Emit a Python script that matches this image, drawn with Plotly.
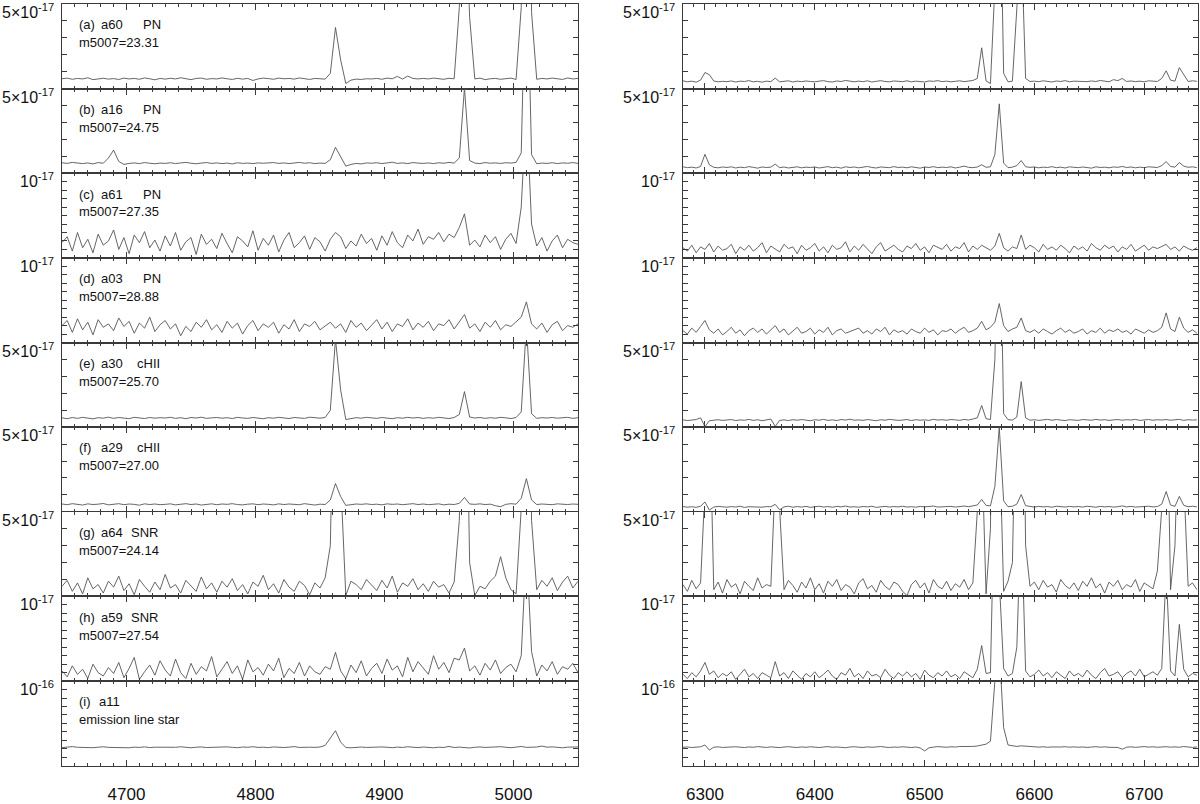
import plotly.graph_objects as go

W, H = 1200, 804

# wavelength sampling (Angstrom)
wl_blue = [4650 + 4 * i for i in range(101)]
wl_red = [6280 + 4 * i for i in range(118)]

# fluxes in units of 1e-19 erg s-1 cm-2 A-1
blue_a = [58,62,55,60,57,64,53,58,61,56, 59,54,62,57,60,55,63,58,52,60,
          56,61,57,64,58,53,60,62,55,59, 57,63,58,54,61,56,60,48,57,62,
          59,55,62,58,60,56,63,57,54,60, 58,56,90,361,170,30,50,56,54,58,
          57,60,55,62,58,72,56,74,60,57, 60,57,62,59,55,61,58,480,1300,420,
          57,62,53,58,60,55,58,62,54,480, 3900,450,55,60,57,62,58,54,63,57,60]
blue_b = [62,58,64,60,57,61,55,63,59,90, 137,70,52,58,61,57,63,59,56,60,
          58,62,57,61,64,59,56,60,63,58, 61,57,60,55,62,58,60,57,61,59,
          60,63,58,61,57,60,64,59,62,57, 60,58,80,153,95,42,52,58,55,61,
          59,62,57,60,65,58,61,57,63,60, 58,61,57,62,59,64,60,90,505,75,
          60,57,63,59,61,58,62,60,64,120, 1400,110,56,60,58,62,57,61,59,63,58]
blue_c = [18,25,8,30,12,22,6,28,15,20, 33,10,24,5,27,18,31,12,21,8,
          26,14,30,9,19,24,4,28,16,22, 11,29,17,6,25,20,13,32,9,23,
          15,27,7,21,30,12,18,26,10,24, 19,8,22,30,25,11,20,14,28,17,
          23,9,26,15,31,18,12,27,20,34, 16,25,22,30,19,28,24,36,52,15,
          21,13,27,18,25,10,22,29,17,60, 180,40,14,24,8,20,27,12,22,18,16]
blue_d = [20,26,12,28,15,24,9,27,18,22, 14,29,19,25,11,23,17,30,13,21,
          26,16,22,8,19,13,24,18,27,15, 21,12,25,17,23,10,20,26,14,22,
          18,24,11,21,16,27,13,22,19,25, 15,20,24,17,22,12,26,18,23,14,
          21,27,16,24,13,22,19,28,15,23, 18,25,14,22,20,27,16,24,33,17,
          22,13,24,18,26,15,21,19,25,30, 48,22,16,23,12,21,25,14,20,18,22]
blue_e = [55,50,57,52,58,54,49,56,53,59, 52,57,54,50,58,55,51,57,53,56,
          54,58,52,56,50,57,54,59,52,55, 57,53,56,51,58,54,52,57,55,50,
          56,53,58,54,51,57,55,52,59,54, 53,57,100,520,220,45,50,56,53,58,
          55,52,57,54,50,56,53,58,54,57, 52,56,53,58,55,51,57,75,210,60,
          54,57,52,56,53,58,55,51,57,90, 600,80,52,56,54,57,53,55,58,52,56]
blue_f = [46,42,48,44,40,47,43,45,49,41, 45,48,42,46,44,39,47,43,46,42,
          44,47,41,45,48,43,46,40,44,47, 42,46,44,48,43,41,45,47,42,46,
          44,41,47,43,46,45,42,48,44,40, 45,43,70,167,90,38,42,46,44,47,
          43,45,41,47,44,46,42,45,48,43, 46,42,44,47,41,45,43,50,85,46,
          44,47,43,45,36,30,44,48,45,80, 196,70,43,46,44,42,47,45,43,46,44]
blue_g = [60,95,30,80,15,110,45,70,20,90, 55,120,35,75,10,100,60,25,85,40,
          130,50,70,20,95,65,30,115,45,80, 25,90,55,105,35,70,15,85,60,125,
          40,75,20,100,55,30,90,65,10,80, 50,110,300,1800,700,5,90,70,40,100,
          65,35,95,50,120,25,80,60,105,40, 75,30,90,55,70,20,85,450,2000,200,
          5,60,45,90,120,235,110,40,15,520, 3000,450,40,95,60,110,35,85,120,50,90]
blue_h = [12,5,18,8,14,3,20,10,6,16, 9,22,4,15,28,2,11,19,7,24,
          13,6,26,10,3,21,8,17,12,29, 5,14,23,9,18,2,25,11,16,7,
          20,12,27,4,15,9,22,6,18,11, 8,17,14,34,12,3,19,10,24,6,
          15,21,9,26,13,18,5,28,11,23, 16,8,30,14,22,10,27,25,39,12,
          18,7,21,13,25,9,16,20,11,30, 160,35,6,19,12,23,8,17,14,21,10]
blue_i = [214,220,226,218,216,222,213,219,224,217, 215,221,218,212,220,216,223,214,219,217,
          221,215,218,224,216,212,219,222,215,218, 220,216,223,217,213,221,218,225,216,219,
          214,222,218,215,220,226,216,213,219,217, 221,240,330,414,280,215,212,218,221,216,
          219,215,222,218,213,220,216,224,217,214, 221,218,212,219,216,228,215,220,217,210,
          218,222,216,219,214,225,218,213,220,228, 217,215,221,232,219,223,216,212,220,218,222]

red_a = [46,40,44,38,50,95,82,45,40,43, 41,45,39,44,42,47,40,43,38,44,
         41,62,40,43,46,39,44,41,45,42, 40,44,47,41,39,45,42,48,43,40,
         44,41,46,39,43,47,42,40,45,43, 41,46,40,44,42,39,45,43,47,41,
         44,40,43,46,41,45,48,60,241,45, 30,600,1500,90,40,44,480,900,60,42,
         44,41,46,43,39,45,42,47,40,44, 43,46,41,45,42,48,44,40,53,47,
         60,42,45,41,44,40,46,43,42,60, 105,50,44,124,85,42,46,43]
red_b = [38,33,36,31,40,112,50,35,32,37, 34,38,31,36,33,39,35,30,37,34,
         36,54,33,37,31,35,38,32,36,34, 37,31,35,39,33,36,30,38,34,37,
         32,36,40,34,31,37,35,33,39,34, 36,32,38,35,30,37,34,39,33,36,
         34,38,31,36,42,35,33,37,50,35, 38,110,410,60,33,36,45,75,38,35,
         37,32,36,34,39,33,36,31,38,35, 33,37,35,30,38,34,36,32,37,35,
         40,34,37,32,36,33,38,35,34,45, 69,40,36,63,42,35,38,33]
red_c = [12,8,15,6,13,10,17,7,14,9, 11,16,5,13,9,15,8,12,18,6,
         14,10,7,16,11,13,5,15,9,12, 17,8,13,6,15,10,12,19,7,14,
         9,16,11,5,13,18,8,12,15,10, 7,14,11,17,9,13,6,15,12,10,
         16,8,13,11,18,7,14,10,15,12, 9,14,29,12,8,13,11,27,10,15,
         12,7,16,10,13,9,15,11,6,14, 10,13,8,17,12,9,15,11,14,7,
         13,10,16,8,12,15,9,13,11,14, 16,10,13,8,14,11,9,12]
red_d = [14,10,17,12,19,26,15,11,16,9, 13,18,11,15,8,14,17,12,16,10,
         15,20,12,16,9,14,18,11,13,17, 10,15,12,18,9,14,16,11,13,15,
         17,11,14,10,16,13,18,9,15,12, 14,10,16,13,11,17,12,15,9,14,
         13,16,11,15,18,12,14,17,25,15, 18,24,46,20,13,16,18,29,14,12,
         15,11,16,13,10,14,17,12,15,11, 13,16,10,14,12,17,11,15,13,16,
         12,14,10,16,13,11,15,12,14,18, 35,16,13,30,17,12,15,11]
red_e = [43,39,42,45,55,3,38,41,44,40, 42,45,39,43,41,46,40,44,38,42,
         48,5,40,43,39,44,41,45,42,38, 44,41,46,40,43,39,45,42,47,41,
         43,40,45,42,38,44,41,46,43,40, 42,45,39,44,41,43,40,46,42,44,
         41,45,43,40,46,42,48,55,128,50, 45,400,1500,80,44,42,60,269,55,41,
         44,40,43,46,41,45,42,39,44,42, 40,45,43,41,46,42,44,40,43,45,
         41,44,42,46,40,43,45,41,44,42, 45,41,43,46,40,44,42,43]
red_f = [31,27,30,26,33,58,10,28,32,29, 27,31,28,33,26,30,29,32,27,31,
         30,44,12,29,33,27,31,28,32,26, 30,33,28,31,27,32,29,34,28,30,
         27,31,29,33,26,30,32,28,31,29, 33,28,30,27,32,29,31,34,28,30,
         29,32,28,31,34,30,33,40,73,38, 35,150,500,65,30,33,45,102,36,30,
         28,32,29,31,27,33,30,28,32,29, 31,28,33,30,27,32,29,31,28,30,
         35,29,32,28,31,30,33,29,31,45, 120,40,32,91,38,30,33,29]
red_g = [70,30,95,45,80,600,1200,40,85,20, 100,55,75,15,90,60,35,110,50,70,
         60,700,520,40,95,65,25,85,50,110, 40,75,20,90,60,100,35,70,55,15,
         80,105,45,65,25,95,60,40,85,70, 30,5,70,95,50,80,20,100,60,45,
         90,35,75,55,100,40,80,500,900,15, 400,3000,1000,30,90,200,1500,2500,300,60,
         85,40,95,55,70,25,100,65,45,80, 35,90,60,110,50,75,20,85,60,95,
         40,70,55,100,30,80,65,45,150,520, 1500,40,300,1200,700,60,80,40]
red_h = [8,3,10,5,12,22,8,12,4,9, 6,11,2,8,14,5,9,3,10,7,
         4,23,6,10,3,12,7,2,9,5, 11,4,8,13,6,2,10,7,15,5,
         9,3,12,6,8,4,14,7,3,10, 6,11,5,9,2,13,7,4,10,6,
         12,5,8,3,11,7,4,14,42,9, 10,250,120,15,6,9,40,200,12,5,
         8,13,6,10,4,11,7,3,12,6, 9,5,13,7,3,10,15,6,8,11,
         4,9,12,6,14,5,8,11,7,15, 130,12,6,67,14,5,9,7]
red_i = [218,222,215,220,224,245,185,219,223,216, 221,217,224,219,215,222,218,226,220,216,
         223,218,214,221,225,219,216,222,218,224, 220,215,221,226,218,222,217,213,221,225,
         219,216,223,218,222,227,220,215,221,218, 224,219,215,221,210,175,212,220,226,222,
         218,224,221,227,225,230,228,233,240,255, 290,1000,1400,450,245,232,228,235,230,224,
         226,220,224,218,222,217,221,225,219,223, 218,222,216,221,225,219,223,218,221,216,
         195,219,223,217,222,226,220,224,218,222, 225,219,223,218,227,221,216,222]

blue_spectra = [blue_a, blue_b, blue_c, blue_d, blue_e, blue_f, blue_g, blue_h, blue_i]
red_spectra = [red_a, red_b, red_c, red_d, red_e, red_f, red_g, red_h, red_i]
for s in blue_spectra:
    assert len(s) == len(wl_blue), len(s)
for s in red_spectra:
    assert len(s) == len(wl_red), len(s)

panel_tags = ["(a)", "(b)", "(c)", "(d)", "(e)", "(f)", "(g)", "(h)", "(i)"]
object_ids = ["a60", "a16", "a61", "a03", "a30", "a29", "a64", "a59", "a11"]
object_types = ["PN", "PN", "PN", "PN", "cHII", "cHII", "SNR", "SNR", ""]
second_lines = ["m5007=23.31", "m5007=24.75", "m5007=27.35", "m5007=28.88",
                "m5007=25.70", "m5007=27.00", "m5007=24.14", "m5007=27.54",
                "emission line star"]
y_tops = [5e-17, 5e-17, 1e-17, 1e-17, 5e-17, 5e-17, 5e-17, 1e-17, 1e-16]
y_top_labels = ["5×10<sup>-17</sup>", "5×10<sup>-17</sup>", "10<sup>-17</sup>",
                "10<sup>-17</sup>", "5×10<sup>-17</sup>", "5×10<sup>-17</sup>",
                "5×10<sup>-17</sup>", "10<sup>-17</sup>", "10<sup>-16</sup>"]
y_tick_steps = [1e-17, 1e-17, 1e-18, 1e-18, 1e-17, 1e-17, 1e-17, 1e-18, 1e-17]
blue_ticks = [4700, 4800, 4900, 5000]
red_ticks = [6300, 6400, 6500, 6600, 6700]
blue_range = [4650, 5050]
red_range = [6280, 6749]
flux_unit = 1e-19

# layout geometry (pixels)
TOP, PH = 4.0, 85.6
COLS = [(62, 578), (683, 1198)]
FONT = "Liberation Sans, Arial, Helvetica, sans-serif"
AX = "#3a3a3a"
LINE = "#555555"

fig = go.Figure()
layout = dict(width=W, height=H, margin=dict(l=0, r=0, t=0, b=0),
              paper_bgcolor="white", plot_bgcolor="white", showlegend=False,
              font=dict(family=FONT, color="#111111"))
annotations = []

def py(px):
    return 1 - px / H

for r in range(9):
    top_px = TOP + r * PH
    bot_px = top_px + PH
    for c in range(2):
        n = r * 2 + c + 1
        sfx = "" if n == 1 else str(n)
        wl = wl_blue if c == 0 else wl_red
        spec = blue_spectra[r] if c == 0 else red_spectra[r]
        fig.add_trace(go.Scatter(
            x=wl, y=[v * flux_unit for v in spec], mode="lines",
            line=dict(color=LINE, width=0.9), xaxis="x" + sfx, yaxis="y" + sfx,
            hoverinfo="skip"))
        x0, x1 = COLS[c]
        layout["xaxis" + sfx] = dict(
            domain=[x0 / W, x1 / W], anchor="y" + sfx,
            range=blue_range if c == 0 else red_range,
            tickmode="array", tickvals=blue_ticks if c == 0 else red_ticks,
            ticks="inside", ticklen=6, tickwidth=1, tickcolor=AX,
            minor=dict(tickmode="linear", tick0=0, dtick=10, ticks="inside",
                       ticklen=3, tickwidth=1, tickcolor=AX),
            showline=True, linecolor=AX, linewidth=1, mirror="allticks",
            showgrid=False, zeroline=False,
            showticklabels=(r == 8), tickfont=dict(size=17, family=FONT, color="#111111"),
            ticklabelstandoff=13)
        layout["yaxis" + sfx] = dict(
            domain=[py(bot_px), py(top_px)], anchor="x" + sfx,
            range=[0, y_tops[r]], tickmode="linear", tick0=0, dtick=y_tick_steps[r],
            ticks="inside", ticklen=5, tickwidth=1, tickcolor=AX,
            showline=True, linecolor=AX, linewidth=1, mirror="allticks",
            showgrid=False, zeroline=False, showticklabels=False)
        # top-of-panel flux label
        annotations.append(dict(
            text=y_top_labels[r], xref="paper", yref="paper",
            x=x0 / W, y=py(top_px), xanchor="right", yanchor="top",
            xshift=-6, yshift=5, showarrow=False,
            font=dict(size=16, family=FONT, color="#111111")))
    # panel description (left column only)
    y1 = py(top_px + 21)
    y2 = py(top_px + 39)
    tx = {"PN": 141, "cHII": 135, "SNR": 129, "": 141}[object_types[r]]
    name_x = 99 if r < 8 else 97
    for txt, xp, yy in [(panel_tags[r], 77, y1), (object_ids[r], name_x, y1),
                        (object_types[r], tx, y1), (second_lines[r], 77, y2)]:
        if not txt:
            continue
        annotations.append(dict(
            text=txt, xref="paper", yref="paper", x=xp / W, y=yy,
            xanchor="left", yanchor="middle", showarrow=False,
            font=dict(size=13, family=FONT, color="#111111")))

layout["annotations"] = annotations
fig.update_layout(**layout)
fig.write_html("out.html", config={"displayModeBar": False},
               post_script="document.body.style.margin='0';document.body.style.padding='0';")
